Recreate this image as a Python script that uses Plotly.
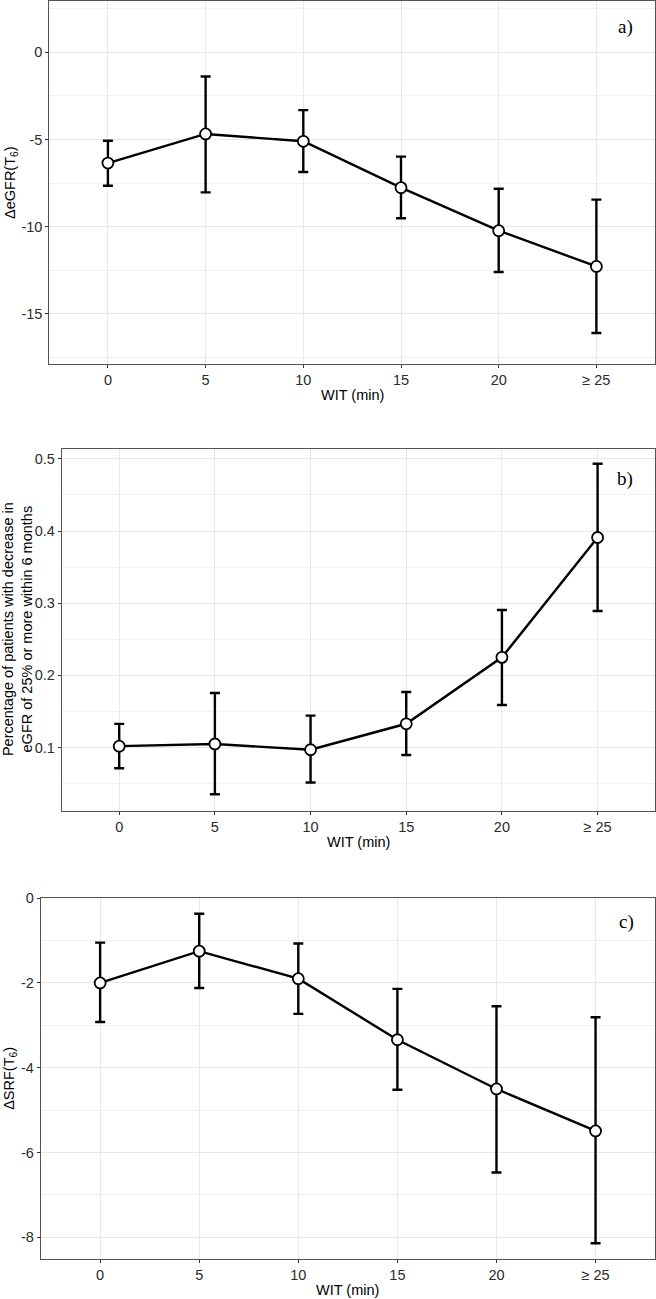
import plotly.graph_objects as go

# ---------------- data ----------------
categories = ["0", "5", "10", "15", "20", "≥ 25"]

egfr_mean = [-6.35, -4.68, -5.10, -7.76, -10.23, -12.28]
egfr_low = [-7.65, -8.03, -6.86, -9.52, -12.60, -16.10]
egfr_high = [-5.07, -1.38, -3.31, -5.98, -7.82, -8.45]
egfr_ticks = [0, -5, -10, -15]
egfr_ticktext = ["0", "-5", "-10", "-15"]

pct_mean = [0.102, 0.105, 0.097, 0.133, 0.225, 0.391]
pct_low = [0.0714, 0.0354, 0.0516, 0.0898, 0.159, 0.2892]
pct_high = [0.1328, 0.1757, 0.1443, 0.177, 0.2905, 0.4931]
pct_ticks = [0.1, 0.2, 0.3, 0.4, 0.5]
pct_ticktext = ["0.1", "0.2", "0.3", "0.4", "0.5"]

srf_mean = [-2.00, -1.25, -1.90, -3.34, -4.50, -5.49]
srf_low = [-2.92, -2.12, -2.73, -4.52, -6.47, -8.14]
srf_high = [-1.05, -0.37, -1.07, -2.14, -2.55, -2.81]
srf_ticks = [0, -2, -4, -6, -8]
srf_ticktext = ["0", "-2", "-4", "-6", "-8"]

panel_labels = ["a)", "b)", "c)"]
y_titles = ["ΔeGFR(T<sub>6</sub>)",
            "Percentage of patients with decrease in<br>eGFR of 25% or more within 6 months",
            "ΔSRF(T<sub>6</sub>)"]
x_title = "WIT (min)"

# ---------------- layout geometry ----------------
W, H = 656, 1299
SANS = "Liberation Sans, Arial, sans-serif"
SERIF = "Liberation Serif, Times New Roman, serif"

panels = [
    dict(mean=egfr_mean, low=egfr_low, high=egfr_high, tv=egfr_ticks, tt=egfr_ticktext,
         left=49.3, top=1.0, bottom=364.0, yrange=[-17.88, 2.95], minor_dtick=2.5,
         label_xy=(625, 27), ytitle_x=10.5),
    dict(mean=pct_mean, low=pct_low, high=pct_high, tv=pct_ticks, tt=pct_ticktext,
         left=61.8, top=448.5, bottom=810.7, yrange=[0.0126, 0.5143], minor_dtick=0.05,
         label_xy=(625, 479), ytitle_x=17.5),
    dict(mean=srf_mean, low=srf_low, high=srf_high, tv=srf_ticks, tt=srf_ticktext,
         left=40.7, top=897.7, bottom=1259.0, yrange=[-8.51, 0.01], minor_dtick=1,
         label_xy=(626, 922), ytitle_x=10.5),
]
RIGHT = 655.0

fig = go.Figure()
annotations = []
layout_axes = {}

for i, p in enumerate(panels):
    n = i + 1
    xa = "x" if n == 1 else f"x{n}"
    ya = "y" if n == 1 else f"y{n}"
    err_plus = [h - m for h, m in zip(p["high"], p["mean"])]
    err_minus = [m - l for m, l in zip(p["mean"], p["low"])]
    fig.add_trace(go.Scatter(
        x=categories, y=p["mean"], xaxis=xa, yaxis=ya,
        mode="lines+markers",
        line=dict(color="black", width=2.4),
        marker=dict(size=11, color="white", line=dict(color="black", width=1.8)),
        error_y=dict(type="data", symmetric=False, array=err_plus, arrayminus=err_minus,
                     color="black", thickness=2.4, width=5),
        showlegend=False, hoverinfo="skip",
    ))
    xdom = [p["left"] / W, RIGHT / W]
    ydom = [1 - p["bottom"] / H, 1 - p["top"] / H]
    axis_common = dict(
        showline=True, linecolor="#555555", linewidth=1, mirror=True,
        ticks="outside", ticklen=3, tickwidth=1, tickcolor="#333333",
        tickfont=dict(family=SANS, size=14.5, color="#2b2b2b"),
        showgrid=True, gridcolor="#E8E8E8", gridwidth=1,
        zeroline=False, automargin=False,
    )
    layout_axes["xaxis" if n == 1 else f"xaxis{n}"] = dict(
        axis_common, domain=xdom, anchor=ya, type="category",
        categoryorder="array", categoryarray=categories,
        range=[-0.6, len(categories) - 1 + 0.6],
    )
    layout_axes["yaxis" if n == 1 else f"yaxis{n}"] = dict(
        axis_common, domain=ydom, anchor=xa, range=p["yrange"],
        tickmode="array", tickvals=p["tv"], ticktext=p["tt"],
        minor=dict(showgrid=True, gridcolor="#F1F1F1", gridwidth=0.8,
                   tickmode="linear", tick0=0, dtick=p["minor_dtick"]),
    )
    # panel label
    lx, ly = p["label_xy"]
    annotations.append(dict(
        text=panel_labels[i], xref="paper", yref="paper",
        x=lx / W, y=1 - ly / H, xanchor="center", yanchor="middle",
        showarrow=False, font=dict(family=SERIF, size=19, color="black")))
    # x title
    annotations.append(dict(
        text=x_title, xref="paper", yref="paper",
        x=(p["left"] + RIGHT) / 2 / W, y=1 - (p["bottom"] + 31) / H,
        xanchor="center", yanchor="middle", showarrow=False,
        font=dict(family=SANS, size=14.5, color="black")))
    # y title
    annotations.append(dict(
        text=y_titles[i], xref="paper", yref="paper",
        x=p["ytitle_x"] / W, y=1 - (p["top"] + p["bottom"]) / 2 / H,
        xanchor="center", yanchor="middle", textangle=-90, showarrow=False,
        font=dict(family=SANS, size=14.5, color="black")))

fig.update_layout(
    width=W, height=H,
    margin=dict(l=0, r=0, t=0, b=0),
    paper_bgcolor="white", plot_bgcolor="white",
    annotations=annotations,
    **layout_axes,
)

fig.write_html("out.html",
               config={"displayModeBar": False},
               post_script="document.body.style.margin='0';document.body.style.overflow='hidden';")
